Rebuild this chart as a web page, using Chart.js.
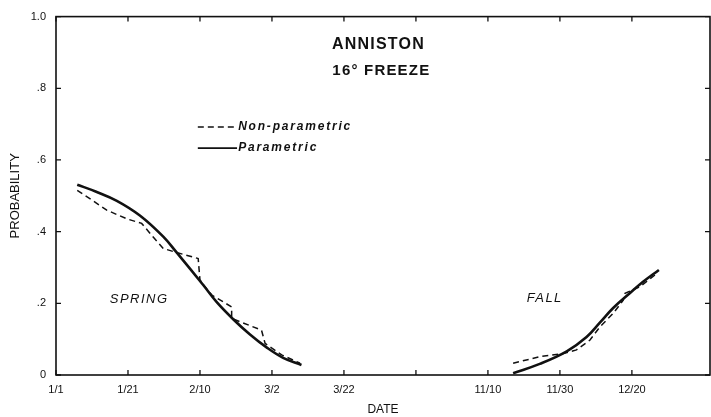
<!DOCTYPE html>
<html>
<head>
<meta charset="utf-8">
<script src="https://cdn.jsdelivr.net/npm/chart.js@4"></script>
<style>
  html, body { margin: 0; padding: 0; background: #fff; }
  #wrap { width: 711px; height: 417px; position: relative; }
</style>
</head>
<body>
<div id="wrap"><canvas id="c"></canvas></div>
<script>
// ---- Data (x = day index along the broken date axis, 1/1 = 0, 20 days per tick) ----
const xTickValues = [0, 20, 40, 60, 80, 100, 120, 140, 160];
const xTickLabels = ['1/1', '1/21', '2/10', '3/2', '3/22', '', '11/10', '11/30', '12/20'];
const yTickValues = [0, 0.2, 0.4, 0.6, 0.8, 1.0];
const yTickLabels = ['0', '.2', '.4', '.6', '.8', '1.0'];

const springParamDays = [5.9, 11.0, 16.9, 23.3, 29.8, 33.5, 40.9, 44.6, 49.3, 53.9, 58.5, 63.1, 68.2];
const springParamProb = [0.531, 0.512, 0.486, 0.445, 0.386, 0.342, 0.251, 0.204, 0.155, 0.113, 0.077, 0.048, 0.028];

const springNonParDays = [5.9, 9.4, 14.1, 19.6, 23.8, 27.0, 29.8, 33.1, 39.5, 40.0, 41.4, 43.3, 48.8, 48.8, 57.1, 58.1, 62.7, 67.8];
const springNonParProb = [0.515, 0.492, 0.460, 0.436, 0.423, 0.385, 0.353, 0.343, 0.325, 0.265, 0.246, 0.223, 0.190, 0.158, 0.125, 0.088, 0.056, 0.033];

const fallParamDays = [127.0, 134.4, 141.9, 147.4, 151.1, 154.8, 159.4, 163.1, 167.5];
const fallParamProb = [0.005, 0.031, 0.066, 0.106, 0.146, 0.187, 0.228, 0.260, 0.293];

const fallNonParDays = [127.0, 134.4, 140.9, 144.6, 148.3, 151.1, 154.8, 157.6, 158.1, 162.2, 166.9];
const fallNonParProb = [0.033, 0.051, 0.060, 0.070, 0.097, 0.134, 0.172, 0.209, 0.228, 0.246, 0.283];

const seriesNames = ['Non-parametric', 'Parametric'];
const titleLines = ['ANNISTON', '16\u00B0 FREEZE'];
const seasonLabels = ['SPRING', 'FALL'];

// ---- helpers ----
const pts = (xs, ys) => xs.map((v, i) => ({ x: v, y: ys[i] }));

// annotation placement in data space
const layoutNotes = {
  title: [{ x: 89.6, y: 0.922 }, { x: 90.4, y: 0.848 }],
  seasons: [{ x: 23.1, y: 0.212 }, { x: 135.8, y: 0.215 }],
  legend: { x0: 39.4, x1: 50.3, textX: 50.6, rows: [0.692, 0.633] }
};

const framePlugin = {
  id: 'frameAndNotes',
  afterDraw(chart) {
    const { ctx, chartArea: a, scales: { x, y } } = chart;
    ctx.save();
    ctx.strokeStyle = '#111';
    ctx.fillStyle = '#111';
    ctx.lineWidth = 1.6;
    ctx.strokeRect(a.left, a.top, a.right - a.left, a.bottom - a.top);
    ctx.lineWidth = 1.3;
    const tl = 5;
    xTickValues.forEach(v => {
      const px = x.getPixelForValue(v);
      ctx.beginPath();
      ctx.moveTo(px, a.bottom); ctx.lineTo(px, a.bottom - tl);
      ctx.moveTo(px, a.top); ctx.lineTo(px, a.top + tl);
      ctx.stroke();
    });
    yTickValues.forEach(v => {
      const py = y.getPixelForValue(v);
      ctx.beginPath();
      ctx.moveTo(a.left, py); ctx.lineTo(a.left + tl, py);
      ctx.moveTo(a.right, py); ctx.lineTo(a.right - tl, py);
      ctx.stroke();
    });

    // Title
    ctx.textAlign = 'center';
    ctx.textBaseline = 'middle';
    ctx.letterSpacing = '1.2px';
    titleLines.forEach((t, i) => {
      const p = layoutNotes.title[i];
      ctx.font = 'bold ' + (i === 0 ? '16px' : '15px') + ' "Liberation Sans", Arial, sans-serif';
      ctx.fillText(t, x.getPixelForValue(p.x), y.getPixelForValue(p.y));
    });

    // Season labels
    ctx.letterSpacing = '1.5px';
    ctx.font = 'italic 13px "Liberation Sans", Arial, sans-serif';
    seasonLabels.forEach((t, i) => {
      const p = layoutNotes.seasons[i];
      ctx.fillText(t, x.getPixelForValue(p.x), y.getPixelForValue(p.y));
    });

    // Legend
    const lg = layoutNotes.legend;
    ctx.textAlign = 'left';
    ctx.font = 'italic bold 12px "Liberation Sans", Arial, sans-serif';
    ctx.letterSpacing = '1.8px';
    seriesNames.forEach((t, i) => {
      const py = y.getPixelForValue(lg.rows[i]);
      ctx.beginPath();
      ctx.lineWidth = i === 0 ? 1.4 : 1.8;
      ctx.setLineDash(i === 0 ? [6, 4] : []);
      ctx.moveTo(x.getPixelForValue(lg.x0), py);
      ctx.lineTo(x.getPixelForValue(lg.x1), py);
      ctx.stroke();
      ctx.setLineDash([]);
      ctx.fillText(t, x.getPixelForValue(lg.textX), py);
    });
    ctx.restore();
  }
};

const dashedStyle = { borderColor: '#111', borderWidth: 1.5, borderDash: [6, 4], pointRadius: 0, tension: 0, fill: false };
const solidStyle = { borderColor: '#111', borderWidth: 2.6, pointRadius: 0, tension: 0.4, fill: false };

new Chart(document.getElementById('c'), {
  type: 'line',
  data: {
    datasets: [
      Object.assign({ label: seriesNames[0] + ' (spring)', data: pts(springNonParDays, springNonParProb) }, dashedStyle),
      Object.assign({ label: seriesNames[0] + ' (fall)', data: pts(fallNonParDays, fallNonParProb) }, dashedStyle),
      Object.assign({ label: seriesNames[1] + ' (spring)', data: pts(springParamDays, springParamProb) }, solidStyle),
      Object.assign({ label: seriesNames[1] + ' (fall)', data: pts(fallParamDays, fallParamProb) }, solidStyle)
    ]
  },
  options: {
    responsive: true,
    maintainAspectRatio: false,
    animation: false,
    layout: { padding: { top: 16, right: 1, left: 0, bottom: 0 } },
    plugins: { legend: { display: false }, tooltip: { enabled: false } },
    scales: {
      x: {
        type: 'linear',
        min: 0,
        max: 181.7,
        grid: { display: false, drawTicks: false },
        border: { display: false },
        afterBuildTicks: s => { s.ticks = xTickValues.map(v => ({ value: v })); },
        afterFit: s => { s.height = 42; },
        ticks: {
          autoSkip: false,
          maxRotation: 0,
          padding: 8,
          color: '#111',
          font: { size: 11, family: '"Liberation Sans", Arial, sans-serif' },
          callback: v => { const i = xTickValues.indexOf(v); return i >= 0 ? xTickLabels[i] : ''; }
        },
        title: {
          display: true,
          text: 'DATE',
          color: '#111',
          font: { size: 12, family: '"Liberation Sans", Arial, sans-serif' },
          padding: { top: 2, bottom: 0 }
        }
      },
      y: {
        type: 'linear',
        min: 0,
        max: 1,
        grid: { display: false, drawTicks: false },
        border: { display: false },
        afterBuildTicks: s => { s.ticks = yTickValues.map(v => ({ value: v })); },
        afterFit: s => { s.width = 56; },
        ticks: {
          padding: 10,
          color: '#111',
          font: { size: 11, family: '"Liberation Sans", Arial, sans-serif' },
          callback: v => { const i = yTickValues.findIndex(t => Math.abs(t - v) < 1e-9); return i >= 0 ? yTickLabels[i] : ''; }
        },
        title: {
          display: true,
          text: 'PROBABILITY',
          color: '#111',
          font: { size: 13, family: '"Liberation Sans", Arial, sans-serif' },
          padding: { top: 8, bottom: 0 }
        }
      }
    }
  },
  plugins: [framePlugin]
});
</script>
</body>
</html>
